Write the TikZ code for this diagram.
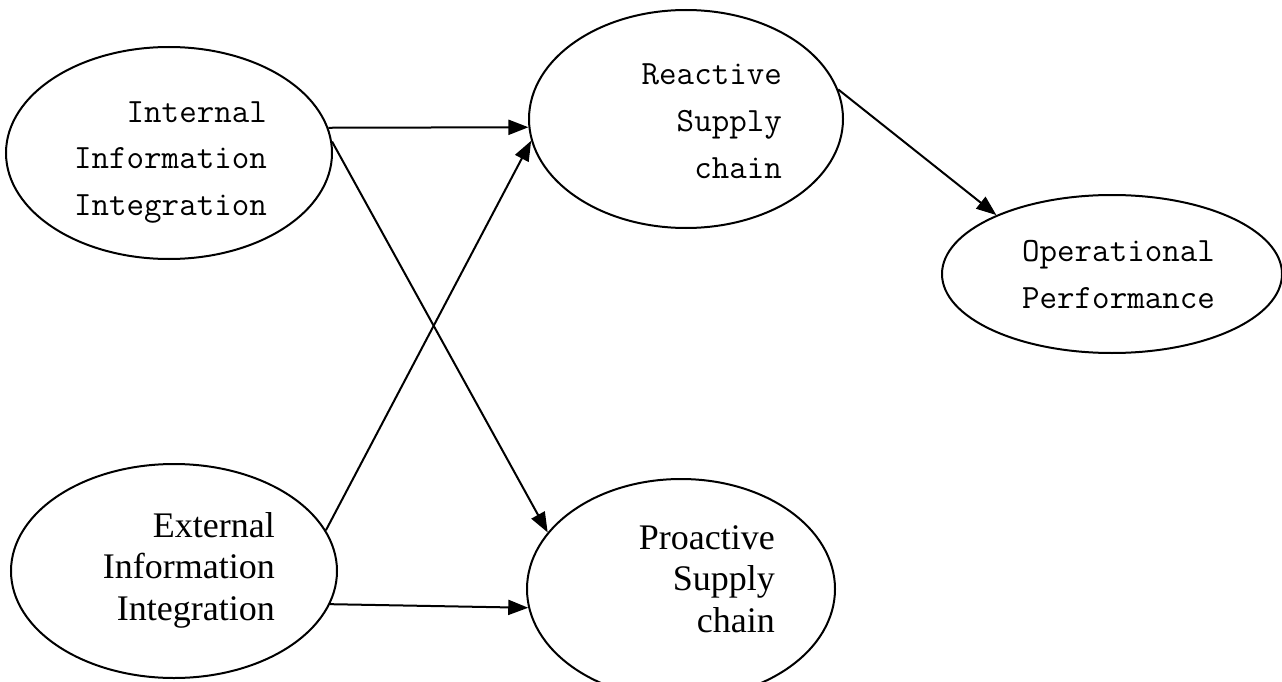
\documentclass[tikz,border=0pt]{standalone}
\usepackage{fontspec}
\usetikzlibrary{shapes.geometric,arrows.meta}
\newfontfamily\timesf{Liberation Serif}
\begin{document}
\begin{tikzpicture}[x=1pt,y=-1pt,
  construct/.style={draw,ellipse,line width=2pt,inner sep=0pt},
  monolabel/.style={anchor=base east,inner sep=0pt,align=right,
    font=\ttfamily\fontsize{34}{46.5}\selectfont},
  seriflabel/.style={anchor=base east,inner sep=0pt,align=right,
    font=\timesf\fontsize{36}{41.5}\selectfont},
  path/.style={line width=2pt,-{Triangle[length=20pt,width=15pt]}}]
\useasboundingbox (0,0) rectangle (1282,682);

% constructs
\node[construct,minimum width=326pt,minimum height=212pt] (int) at (169,153) {};
\node[construct,minimum width=314pt,minimum height=218pt] (rea) at (686,119) {};
\node[construct,minimum width=340pt,minimum height=158pt] (ope) at (1112,274) {};
\node[construct,minimum width=326pt,minimum height=214pt] (ext) at (174,571) {};
\node[construct,minimum width=308pt,minimum height=220pt] (pro) at (681,589) {};

% labels, anchored at the baseline of their last line
\node[monolabel] (intT) at (267,215) {Internal\\Information\\Integration};
\node[monolabel] (reaT) at (782,178) {Reactive\\Supply\\chain};
\node[monolabel] (opeT) at (1215,308) {Operational\\Performance};
\node[seriflabel] (extT) at (275,620) {External\\Information\\Integration};
\node[seriflabel] (proT) at (775,632) {Proactive\\Supply\\chain};

% paths
\draw[path] (int.9) -- (rea.183);
\draw[path] (int.4) -- (pro.157);
\draw[path] (ext.15) -- (rea.188);
\draw[path] (ext.-12) -- (pro.187);
\draw[path] (rea.11) -- (ope.153);
\end{tikzpicture}
\end{document}
